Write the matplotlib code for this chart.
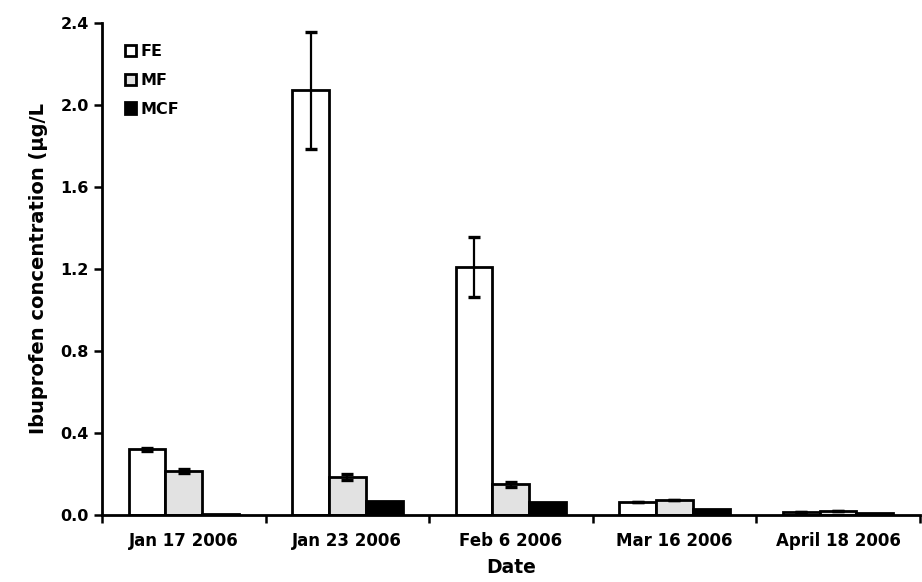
import numpy as np
import matplotlib.pyplot as plt
from matplotlib.ticker import FixedLocator

dates = ['Jan 17 2006', 'Jan 23 2006', 'Feb 6 2006', 'Mar 16 2006', 'April 18 2006']

fe     = np.array([0.32, 2.07, 1.21, 0.062, 0.016])
fe_err = np.array([0.008, 0.285, 0.145, 0.0, 0.0])
mf     = np.array([0.215, 0.184, 0.150, 0.073, 0.021])
mf_err = np.array([0.010, 0.014, 0.012, 0.0, 0.0])
mcf    = np.array([0.005, 0.070, 0.065, 0.029, 0.011])

plt.rcParams['font.family'] = 'DejaVu Sans'
plt.rcParams['font.weight'] = 'bold'

fig = plt.figure(figsize=(9.22, 5.82), dpi=100)
ax = fig.add_axes([0.1106, 0.115, 0.887, 0.846])

x = np.arange(len(dates))
w = 0.225
ekw = dict(ecolor='black', elinewidth=1.6, capsize=4.5, capthick=2.4)

ax.bar(x - w, fe, w, yerr=fe_err, color='white', edgecolor='black',
       linewidth=2, label='FE', error_kw=ekw, zorder=2)
ax.bar(x, mf, w, yerr=mf_err, color='#e2e2e2', edgecolor='black',
       linewidth=2, label='MF', error_kw=ekw, zorder=2)
ax.bar(x + w, mcf, w, color='black', edgecolor='black',
       linewidth=2, label='MCF', zorder=2)

ax.set_xlim(-0.5, len(dates) - 0.5)
ax.set_ylim(0, 2.4)
ticks = np.arange(0, 2.41, 0.4)
ax.set_yticks(ticks)
ax.set_yticklabels(['%.1f' % v for v in ticks])

# category labels at bar groups, tick marks between groups
ax.set_xticks(x)
ax.set_xticklabels(dates, fontsize=12)
ax.tick_params(axis='x', which='major', length=0, pad=12)
ax.xaxis.set_minor_locator(FixedLocator(np.arange(-0.5, len(dates), 1.0)))
ax.tick_params(axis='x', which='minor', length=6, width=1.8, direction='out')
ax.tick_params(axis='y', length=6, width=1.8, direction='out', labelsize=11.5)

for s in ['top', 'right']:
    ax.spines[s].set_visible(False)
for s in ['left', 'bottom']:
    ax.spines[s].set_linewidth(2)

ax.set_ylabel('Ibuprofen concentration (μg/L', fontsize=14, fontweight='bold', labelpad=9)
ax.set_xlabel('Date', fontsize=13.5, fontweight='bold', labelpad=6)

ax.legend(loc='upper left', bbox_to_anchor=(0.01, 0.985), frameon=False,
          handlelength=0.7, handleheight=0.7, handletextpad=0.3,
          labelspacing=0.85, prop={'size': 11.5, 'weight': 'bold'})

fig.savefig('out.png', dpi=100)
